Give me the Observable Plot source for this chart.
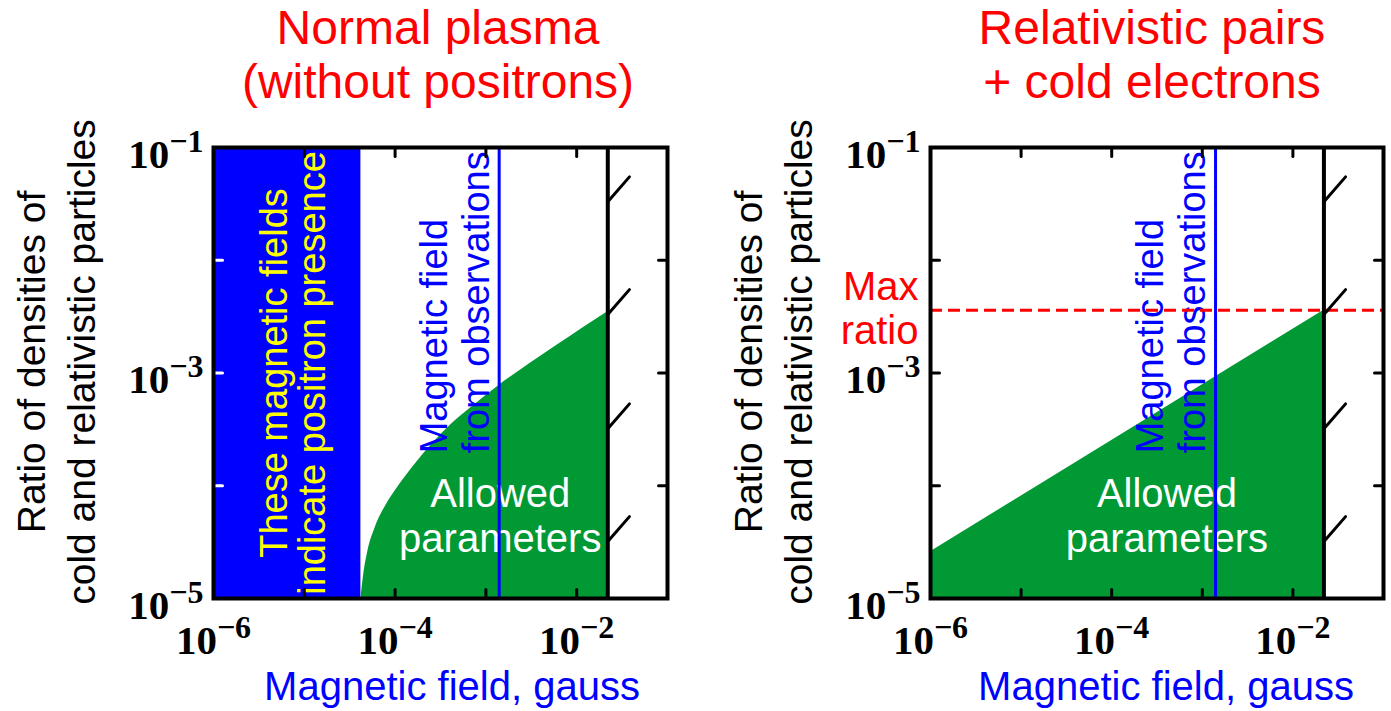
<!DOCTYPE html>
<html><head><meta charset="utf-8">
<script src="https://cdn.jsdelivr.net/npm/d3@7"></script>
<script src="https://cdn.jsdelivr.net/npm/@observablehq/plot@0.6"></script>
<style>
body{margin:0;background:#fff;}
#wrap{position:relative;width:1391px;height:711px;overflow:hidden;font-family:"Liberation Sans",Arial,sans-serif;}
.panel{position:absolute;top:0;}
.title{position:absolute;top:1px;width:700px;text-align:center;color:#ff0000;font-size:48px;line-height:54px;white-space:nowrap;transform:translateX(-50%);}
.ylab{position:absolute;transform:translate(-50%,-50%) rotate(-90deg);text-align:center;white-space:nowrap;font-size:39px;line-height:50px;color:#000;}
.xlab{position:absolute;top:663px;transform:translateX(-50%);white-space:nowrap;color:#0000ff;font-size:40px;line-height:46px;}
</style></head>
<body><div id="wrap"></div>
<script>
// ---------- data ----------
const xDomain = [1e-6, 1e-1];
const yDomain = [1e-5, 1e-1];
const xMinorTicks = [1e-5, 1e-4, 1e-3, 1e-2];
const yMinorTicks = [1e-4, 1e-3, 1e-2];
const xLabelTicks = [1e-6, 1e-4, 1e-2];
const yLabelTicks = [1e-5, 1e-3, 1e-1];

const positronBand = [1e-6, 4.2e-5];          // B range that implies positrons
const observedField = [1.4e-3];               // gauss
const maxField = [2.2e-2];                    // upper bound on B
const hatchRatios = [3.2e-5, 3.2e-4, 3.3e-3, 3.3e-2];

// Normal plasma: allowed-region boundary
const normalField = [4.2e-5, 4.5e-5, 5e-5, 6e-5, 8e-5, 1e-4, 1.5e-4, 2.5e-4, 4e-4, 7e-4, 1.35e-3, 3e-3, 6e-3, 1.2e-2, 2.2e-2];
const normalRatio = [1e-5, 1.6e-5, 2.6e-5, 4.2e-5, 6.8e-5, 9e-5, 1.4e-4, 2.3e-4, 3.4e-4, 5e-4, 7.6e-4, 1.2e-3, 1.75e-3, 2.55e-3, 3.5e-3];

// Relativistic pairs + cold electrons: allowed-region boundary
const pairField = [1e-6, 2.2e-2];
const pairRatio = [2.6e-5, 3.6e-3];
const maxRatio = [3.6e-3];

const titlesLeft = ["Normal plasma", "(without positrons)"];
const titlesRight = ["Relativistic pairs", "+ cold electrons"];
const yLabelLines = ["Ratio of densities of", "cold and relativistic particles"];
const xLabelText = "Magnetic field, gauss";
const positronNote = ["These magnetic fields\nindicate positron presence"];
const obsNote = ["Magnetic field\nfrom observations"];
const allowedNote = ["Allowed\nparameters"];
const maxNote = ["Max\nratio"];

// ---------- helpers ----------
const GREEN = "#009933", BLUE = "#0000ff", RED = "#ff0000", YELLOW = "#ffff00";
const lineShape = {draw(ctx, l) { ctx.moveTo(0, 0); ctx.lineTo(0, -l); }};
const fmt = d => `10^${Math.round(Math.log10(d))}`;

function ticksMarks(leftColor) {
  const common = {length: 9, anchor: "start", shape: lineShape, strokeWidth: 3};
  return [
    Plot.vectorX(xMinorTicks, {...common, x: d => d, frameAnchor: "bottom", rotate: 0, stroke: "black"}),
    Plot.vectorX(xMinorTicks, {...common, x: d => d, frameAnchor: "top", rotate: 180, stroke: "black"}),
    Plot.vectorY(yMinorTicks, {...common, y: d => d, frameAnchor: "left", rotate: 90, stroke: leftColor}),
    Plot.vectorY(yMinorTicks, {...common, y: d => d, frameAnchor: "right", rotate: -90, stroke: "black"})
  ];
}

function axesMarks() {
  const font = {fontSize: 41, fontFamily: "Liberation Serif", fontWeight: "bold", fill: "black", label: null, tickSize: 0, tickFormat: fmt};
  return [
    Plot.axisX({...font, ticks: xLabelTicks, anchor: "bottom", tickPadding: 26}),
    Plot.axisY({...font, ticks: yLabelTicks, anchor: "left", tickPadding: 10, dy: 7})
  ];
}

function hatchMarks() {
  return Plot.vector(hatchRatios, {x: maxField[0], y: d => d, rotate: 41, length: 33, anchor: "start",
    shape: lineShape, stroke: "black", strokeWidth: 3});
}

function superscripts(svg) {
  svg.querySelectorAll('[aria-label$="tick label"] text').forEach(t => {
    const m = t.textContent.match(/^10\^(-?\d+)$/);
    if (!m) return;
    t.textContent = "10";
    const ts = document.createElementNS("http://www.w3.org/2000/svg", "tspan");
    ts.setAttribute("dy", "-16");
    ts.setAttribute("font-size", "32");
    ts.textContent = m[1].replace("-", "\u2212");
    t.appendChild(ts);
  });
}

const base = {
  height: 711, marginTop: 147, marginBottom: 113,
  x: {type: "log", domain: xDomain, axis: null},
  y: {type: "log", domain: yDomain, axis: null},
  style: {fontFamily: "Liberation Sans", background: "transparent", overflow: "visible"}
};

const normalRows = normalField.map((B, i) => ({B, R: normalRatio[i]}));
const pairRows = pairField.map((B, i) => ({B, R: pairRatio[i]}));

// ---------- left panel ----------
const left = Plot.plot({
  ...base, width: 700, marginLeft: 213, marginRight: 33,
  marks: [
    Plot.rect([positronBand], {x1: d => d[0], x2: d => d[1], fill: BLUE}),
    Plot.areaY(normalRows, {x: "B", y1: yDomain[0], y2: "R", fill: GREEN, curve: "monotone-x"}),
    Plot.text(positronNote, {x: 7.6e-6, y: 1e-3, rotate: -90, fill: YELLOW, fontSize: 38, lineHeight: 1.02}),
    Plot.text(obsNote, {x: 4.5e-4, y: 1.94e-4, rotate: -90, textAnchor: "start", fill: BLUE, fontSize: 38, lineHeight: 1.1}),
    Plot.text(allowedNote, {x: 1.44e-3, y: 5.5e-5, fill: "white", fontSize: 40, lineHeight: 1.125}),
    Plot.ruleX(observedField, {stroke: BLUE, strokeWidth: 3}),
    Plot.ruleX(maxField, {stroke: "black", strokeWidth: 4}),
    hatchMarks(),
    ...ticksMarks("white"),
    Plot.frame({stroke: "black", strokeWidth: 4}),
    ...axesMarks()
  ]
});

// ---------- right panel ----------
const right = Plot.plot({
  ...base, width: 691, marginLeft: 230, marginRight: 8,
  marks: [
    Plot.areaY(pairRows, {x: "B", y1: yDomain[0], y2: "R", fill: GREEN}),
    Plot.text(obsNote, {x: 4.5e-4, y: 1.94e-4, rotate: -90, textAnchor: "start", fill: BLUE, fontSize: 38, lineHeight: 1.1}),
    Plot.text(allowedNote, {x: 4.07e-4, y: 5.5e-5, fill: "white", fontSize: 40, lineHeight: 1.125}),
    Plot.ruleX(observedField, {stroke: BLUE, strokeWidth: 3}),
    Plot.ruleX(maxField, {stroke: "black", strokeWidth: 4}),
    Plot.ruleY(maxRatio, {stroke: RED, strokeWidth: 3, strokeDasharray: "12,6"}),
    Plot.text(maxNote, {x: xDomain[0], y: maxRatio[0], textAnchor: "end", dx: -12, dy: -2, fill: RED, fontSize: 40, lineHeight: 1.1}),
    hatchMarks(),
    ...ticksMarks("black"),
    Plot.frame({stroke: "black", strokeWidth: 4}),
    ...axesMarks()
  ]
});

superscripts(left); superscripts(right);

const wrap = document.getElementById("wrap");
left.classList.add("panel"); left.style.left = "0px";
right.classList.add("panel"); right.style.left = "700px";
wrap.appendChild(left); wrap.appendChild(right);

function addDiv(cls, html, css) {
  const d = document.createElement("div");
  d.className = cls; d.innerHTML = html; Object.assign(d.style, css);
  wrap.appendChild(d);
}
addDiv("title", titlesLeft.join("<br>"), {left: "438px"});
addDiv("title", titlesRight.join("<br>"), {left: "1152px"});
addDiv("ylab", yLabelLines.join("<br>"), {left: "57px", top: "362px"});
addDiv("ylab", yLabelLines.join("<br>"), {left: "774px", top: "362px"});
addDiv("xlab", xLabelText, {left: "452px"});
addDiv("xlab", xLabelText, {left: "1166px"});
</script>
</body></html>
